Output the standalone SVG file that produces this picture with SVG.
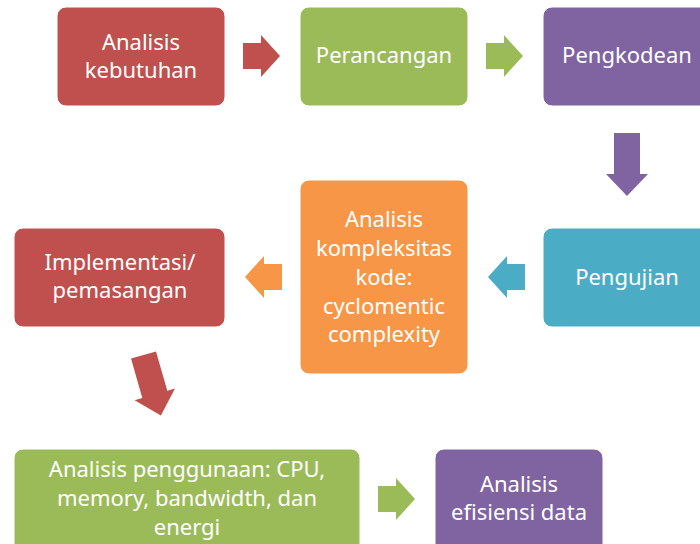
<svg xmlns="http://www.w3.org/2000/svg" width="700" height="544" viewBox="0 0 700 544">
  <style>
    .box { stroke: #ffffff; stroke-width: 1; }
    .red { fill: #C0504D; }
    .green { fill: #9BBB59; }
    .purple { fill: #8064A2; }
    .orange { fill: #F79646; }
    .cyan { fill: #4BACC6; }
    text { font-family: "Noto Sans", "Open Sans", sans-serif; font-size: 22px; fill: #ffffff; text-anchor: middle; }
  </style>
  <defs>
    <!-- block arrows, drawn pointing right / down from origin -->
    <path id="arrowRight" d="M0 8 H18 V0 L37 21 L18 42 V34 H0 Z"/>
    <path id="arrowDown" d="M-13 0 H13 V41 H21 L0 63 L-21 41 H-13 Z"/>
  </defs>
  <rect width="700" height="544" fill="#ffffff"/>

  <g id="connectors">
    <use href="#arrowRight" class="red" x="243" y="35"/>
    <use href="#arrowRight" class="green" x="486" y="35"/>
    <use href="#arrowDown" class="purple" transform="translate(627,133)"/>
    <use href="#arrowRight" class="cyan" transform="translate(525,256) scale(-1,1)"/>
    <use href="#arrowRight" class="orange" transform="translate(282,256) scale(-1,1)"/>
    <use href="#arrowDown" class="red" transform="translate(143.5,355) rotate(-16)"/>
    <use href="#arrowRight" class="green" x="378" y="478"/>
  </g>

  <g id="analisis-kebutuhan">
    <rect class="box red" x="57" y="7" width="168" height="99" rx="9"/>
    <text x="141" y="50">Analisis</text>
    <text x="141" y="78">kebutuhan</text>
  </g>
  <g id="perancangan">
    <rect class="box green" x="300" y="7" width="168" height="99" rx="9"/>
    <text x="384" y="63">Perancangan</text>
  </g>
  <g id="pengkodean">
    <rect class="box purple" x="543" y="7" width="168" height="99" rx="9"/>
    <text x="627" y="63">Pengkodean</text>
  </g>
  <g id="pengujian">
    <rect class="box cyan" x="543" y="228" width="168" height="99" rx="9"/>
    <text x="627" y="285">Pengujian</text>
  </g>
  <g id="analisis-kompleksitas">
    <rect class="box orange" x="300" y="180" width="168" height="194" rx="9"/>
    <text x="384" y="227">Analisis</text>
    <text x="384" y="256">kompleksitas</text>
    <text x="384" y="285">kode:</text>
    <text x="384" y="314">cyclomentic</text>
    <text x="384" y="342">complexity</text>
  </g>
  <g id="implementasi">
    <rect class="box red" x="14" y="228" width="211" height="99" rx="9"/>
    <text x="120" y="270">Implementasi/</text>
    <text x="120" y="298">pemasangan</text>
  </g>
  <g id="analisis-penggunaan">
    <rect class="box green" x="14" y="449" width="346" height="110" rx="9"/>
    <text x="187" y="477">Analisis penggunaan: CPU,</text>
    <text x="187" y="506">memory, bandwidth, dan</text>
    <text x="187" y="535">energi</text>
  </g>
  <g id="analisis-efisiensi">
    <rect class="box purple" x="435" y="449" width="168" height="110" rx="9"/>
    <text x="519" y="492">Analisis</text>
    <text x="519" y="520">efisiensi data</text>
  </g>
</svg>
